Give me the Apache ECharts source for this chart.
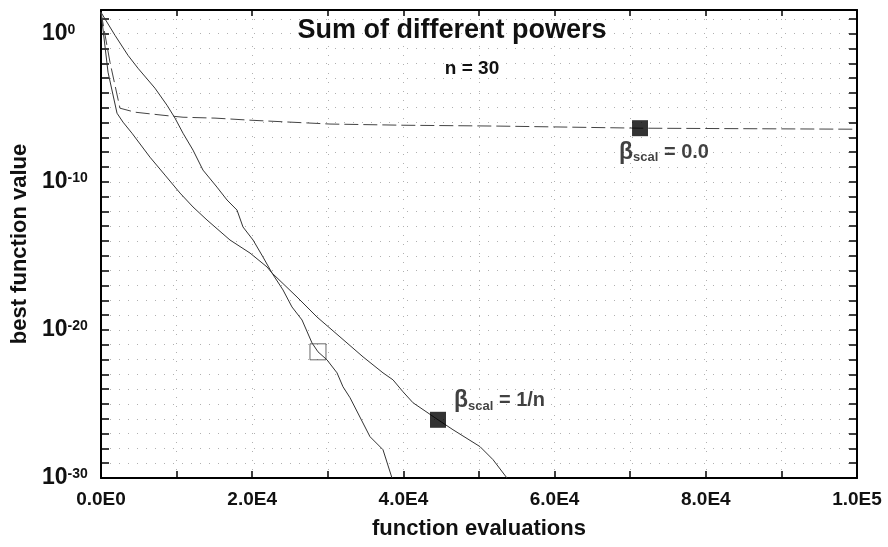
<!DOCTYPE html>
<html>
<head>
<meta charset="utf-8">
<script src="https://cdn.jsdelivr.net/npm/echarts@6/dist/echarts.min.js"></script>
<style>
  html, body { margin: 0; padding: 0; background: #fff; }
  #chart { width: 888px; height: 547px; }
</style>
</head>
<body>
<div id="chart"></div>
<script>
// x = function evaluations, y = log10(best function value)
const evalsOpen = [0, 1850, 3570, 4890, 7140, 8730, 9790, 10850, 12170, 13490, 15340, 16670, 17990, 18780, 20110, 21430, 22620, 24070, 25260, 26590, 27910, 28700, 29890, 31220, 32010, 32940, 35580, 37300, 38490]
const logOpen = [1.44, -0.11, -1.46, -2.33, -3.68, -4.83, -5.70, -6.72, -7.86, -9.21, -10.36, -11.23, -11.91, -13.05, -13.93, -15.08, -16.16, -17.30, -18.45, -19.33, -20.88, -21.48, -22.02, -22.90, -23.84, -24.58, -27.21, -28.09, -30.0]

const evalsScal = [0, 930, 2120, 2910, 4100, 6480, 8470, 10450, 12170, 14020, 17060, 19710, 21960, 22620, 25930, 28570, 31610, 34660, 37300, 38620, 39950, 41270, 44580, 46560, 50130, 51850, 53700]
const logScal = [1.44, -2.60, -5.37, -5.97, -6.72, -8.34, -9.55, -10.76, -11.70, -12.58, -13.93, -14.81, -15.75, -16.16, -17.78, -19.13, -20.47, -21.82, -22.90, -23.37, -24.18, -24.92, -26.07, -26.74, -27.88, -28.76, -30.0]

const evalsZero = [0, 1190, 2510, 4500, 8070, 10850, 15080, 19710, 30290, 39950, 52780, 71300, 100000]
const logZero = [1.44, -1.93, -5.03, -5.30, -5.50, -5.64, -5.70, -5.84, -6.10, -6.18, -6.24, -6.38, -6.45]

// marker positions [evals, log10 value]
const markZero = [71300, -6.38]
const markScal = [44580, -26.07]
const markOpen = [28700, -21.48]

const xTicks = ['0.0E0', '2.0E4', '4.0E4', '6.0E4', '8.0E4', '1.0E5']

const FONT = 'Liberation Sans, Arial, sans-serif'
const INK = '#111'

const zip = (xs, ys) => xs.map((x, i) => [x, ys[i]])

const chart = echarts.init(document.getElementById('chart'), null, { renderer: 'canvas' })

const dotted = { color: '#b0b0b0', type: [1, 8], width: 1 }
const frame = { onZero: false, lineStyle: { color: '#000', width: 2 } }
const tick = len => ({ inside: true, length: len, lineStyle: { color: '#000', width: 1.5 } })

const betaRich = {
  b: { fontSize: 23, fontWeight: 'bold', fontFamily: FONT, color: INK, lineHeight: 24 },
  s: { fontSize: 13, fontWeight: 'bold', fontFamily: FONT, color: INK, lineHeight: 14, verticalAlign: 'bottom' },
  t: { fontSize: 20, fontWeight: 'bold', fontFamily: FONT, color: INK, lineHeight: 24 }
}

const option = {
  animation: false,
  backgroundColor: '#fff',
  title: [
    {
      text: 'Sum of different powers',
      left: 447, top: 12, textAlign: 'center',
      textStyle: { fontSize: 27, fontWeight: 'bold', fontFamily: FONT, color: INK }
    },
    {
      text: 'n = 30',
      left: 467, top: 54, textAlign: 'center',
      textStyle: { fontSize: 19, fontWeight: 'bold', fontFamily: FONT, color: INK }
    }
  ],
  grid: { left: 101, right: 31, top: 10, bottom: 69, outerBoundsMode: 'none' },
  xAxis: [
    {
      type: 'value', min: 0, max: 100000, interval: 10000,
      name: 'function evaluations', nameLocation: 'middle', nameGap: 40,
      nameTextStyle: { fontSize: 22, fontWeight: 'bold', fontFamily: FONT, color: INK },
      axisLine: frame,
      axisTick: tick(7),
      axisLabel: {
        margin: 12, fontSize: 19, fontWeight: 'bold', fontFamily: FONT, color: INK,
        showMinLabel: true, showMaxLabel: true,
        formatter: v => (v % 20000 === 0 ? xTicks[v / 20000] : '')
      },
      splitLine: { show: true, lineStyle: dotted }
    },
    {
      type: 'value', position: 'top', min: 0, max: 100000, interval: 10000,
      axisLine: frame,
      axisTick: tick(6),
      axisLabel: { show: false },
      splitLine: { show: false }
    }
  ],
  yAxis: [
    {
      type: 'value', min: -30, max: 1.6, interval: 1,
      name: 'best function value', nameLocation: 'middle', nameGap: 68,
      nameTextStyle: { fontSize: 22, fontWeight: 'bold', fontFamily: FONT, color: INK },
      axisLine: frame,
      axisTick: tick(8),
      axisLabel: {
        align: 'left', margin: 59, showMaxLabel: false,
        formatter: v => (Math.round(v) === v && v % 10 === 0 ? '{b|10}{e|' + (v === 0 ? '0' : v) + '}' : ''),
        rich: {
          b: { fontSize: 23, fontWeight: 'bold', fontFamily: FONT, color: INK, lineHeight: 22 },
          e: { fontSize: 14, fontWeight: 'bold', fontFamily: FONT, color: INK, lineHeight: 14, verticalAlign: 'top' }
        }
      },
      splitLine: { show: true, lineStyle: dotted }
    },
    {
      type: 'value', position: 'right', min: -30, max: 1.6, interval: 1,
      axisLine: frame,
      axisTick: tick(8),
      axisLabel: { show: false },
      splitLine: { show: false }
    }
  ],
  series: [
    {
      name: 'open', type: 'line', data: zip(evalsOpen, logOpen),
      showSymbol: false, lineStyle: { color: '#333', width: 1 }
    },
    {
      name: 'scal 1/n', type: 'line', data: zip(evalsScal, logScal),
      showSymbol: false, lineStyle: { color: '#333', width: 1 }
    },
    {
      name: 'scal 0.0', type: 'line', data: zip(evalsZero, logZero),
      showSymbol: false, lineStyle: { color: '#444', width: 1, type: [14, 5] }
    },
    {
      type: 'scatter', data: [markOpen], symbol: 'rect', symbolSize: 16,
      itemStyle: { color: 'rgba(0,0,0,0)', borderColor: '#444', borderWidth: 1 },
      z: 5
    },
    {
      type: 'scatter', data: [markScal], symbol: 'rect', symbolSize: 16,
      itemStyle: { color: '#000' }, z: 5,
      label: {
        show: true, position: 'right', distance: 8, offset: [0, -19], color: INK,
        formatter: '{b|β}{s|scal}{t| = 1/n}', rich: betaRich
      }
    },
    {
      type: 'scatter', data: [markZero], symbol: 'rect', symbolSize: 16,
      itemStyle: { color: '#000' }, z: 5,
      label: {
        show: true, position: 'bottom', distance: 3, offset: [24, 1], color: INK,
        formatter: '{b|β}{s|scal}{t| = 0.0}', rich: betaRich
      }
    }
  ]
}

chart.setOption(option)
</script>
</body>
</html>
